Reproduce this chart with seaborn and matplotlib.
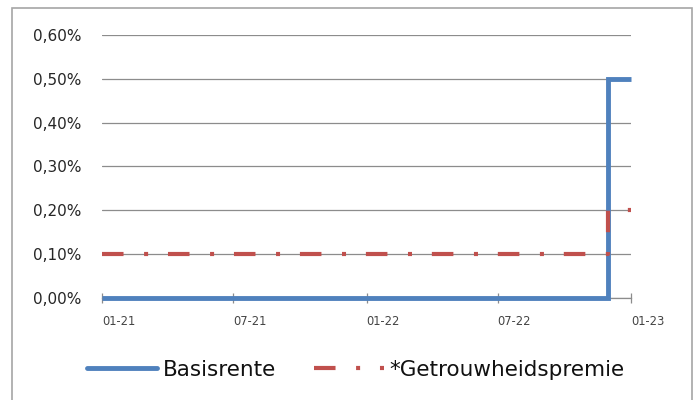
import matplotlib
matplotlib.use("Agg")
import matplotlib.pyplot as plt
import matplotlib.dates as mdates
from matplotlib.ticker import FuncFormatter, MultipleLocator
from matplotlib.patches import Rectangle
import seaborn as sns
import pandas as pd

# ---- data ----
step_dates = ["2021-01-01", "2022-11-30", "2023-01-01"]
basisrente = [0.00, 0.50, 0.50]
getrouwheidspremie = [0.10, 0.20, 0.20]
tick_dates = ["2021-01-01", "2021-07-01", "2022-01-01", "2022-07-01", "2023-01-01"]
series_names = ["Basisrente", "*Getrouwheidspremie"]

sns.set_theme(style="white")
plt.rcParams["font.family"] = ["DejaVu Sans"]
plt.rcParams["lines.scale_dashes"] = False

df = pd.DataFrame({
    "date": pd.to_datetime(step_dates),
    "basis": basisrente,
    "premie": getrouwheidspremie,
})

fig = plt.figure(figsize=(6.98, 4.0), dpi=100)
ax = fig.add_axes([102/698, 1-298/400, (631-102)/698, (298-35)/400])

blue = "#4F81BD"
red = "#C0504D"

sns.lineplot(data=df, x="date", y="basis", ax=ax, color=blue, linewidth=3.5,
             drawstyle="steps-post", label=series_names[0], legend=False, zorder=3)
sns.lineplot(data=df, x="date", y="premie", ax=ax, color=red, linewidth=3.0,
             drawstyle="steps-post", label=series_names[1], legend=False, zorder=4)

lines = ax.get_lines()
blue_line = lines[0]
red_line = lines[1]
red_line.set_dashes([15.5, 14.8, 2.9, 14.3])
red_line.set_dash_capstyle("butt")
blue_line.set_solid_joinstyle("miter")
blue_line.set_solid_capstyle("butt")
for ln in lines:
    ln.set_clip_on(False)

ax.set_ylim(0, 0.6)
ax.set_xlim(pd.Timestamp(tick_dates[0]), pd.Timestamp(tick_dates[-1]))
ax.yaxis.set_major_locator(MultipleLocator(0.1))
ax.yaxis.set_major_formatter(FuncFormatter(lambda v, p: f"{v:.2f}%".replace(".", ",")))
ax.set_xticks(pd.to_datetime(tick_dates))
ax.xaxis.set_major_formatter(mdates.DateFormatter("%m-%y"))
for lbl in ax.get_xticklabels():
    lbl.set_horizontalalignment("left")

ax.grid(axis="y", color="#8c8c8c", linewidth=0.9)
ax.grid(axis="x", visible=False)
ax.set_axisbelow(True)
for s in ["top", "right", "left"]:
    ax.spines[s].set_visible(False)
ax.spines["bottom"].set_color("#8c8c8c")
ax.spines["bottom"].set_linewidth(0.9)
ax.tick_params(axis="x", direction="inout", length=7, width=0.9, color="#8c8c8c",
               labelsize=8.3, labelcolor="#444444", pad=9, bottom=True)
ax.tick_params(axis="y", length=0, labelsize=11.0, labelcolor="#262626", pad=15, left=False)
ax.set_xlabel("")
ax.set_ylabel("")

handles = [blue_line, red_line]
leg = fig.legend(handles, series_names, loc="center", bbox_to_anchor=(356/698, 1-370/400),
                 ncol=2, frameon=False, fontsize=15.5, handlelength=3.25,
                 columnspacing=1.8, handletextpad=0.25)
for t in leg.get_texts():
    t.set_color("#111111")
leg.legend_handles[0].set_solid_capstyle("round")

fig.patches.append(Rectangle((12/698, -0.02), (692-12)/698, 1.02-8/400,
                             transform=fig.transFigure, fill=False,
                             edgecolor="#a6a6a6", linewidth=1.2))

fig.savefig("out.png", dpi=100)
